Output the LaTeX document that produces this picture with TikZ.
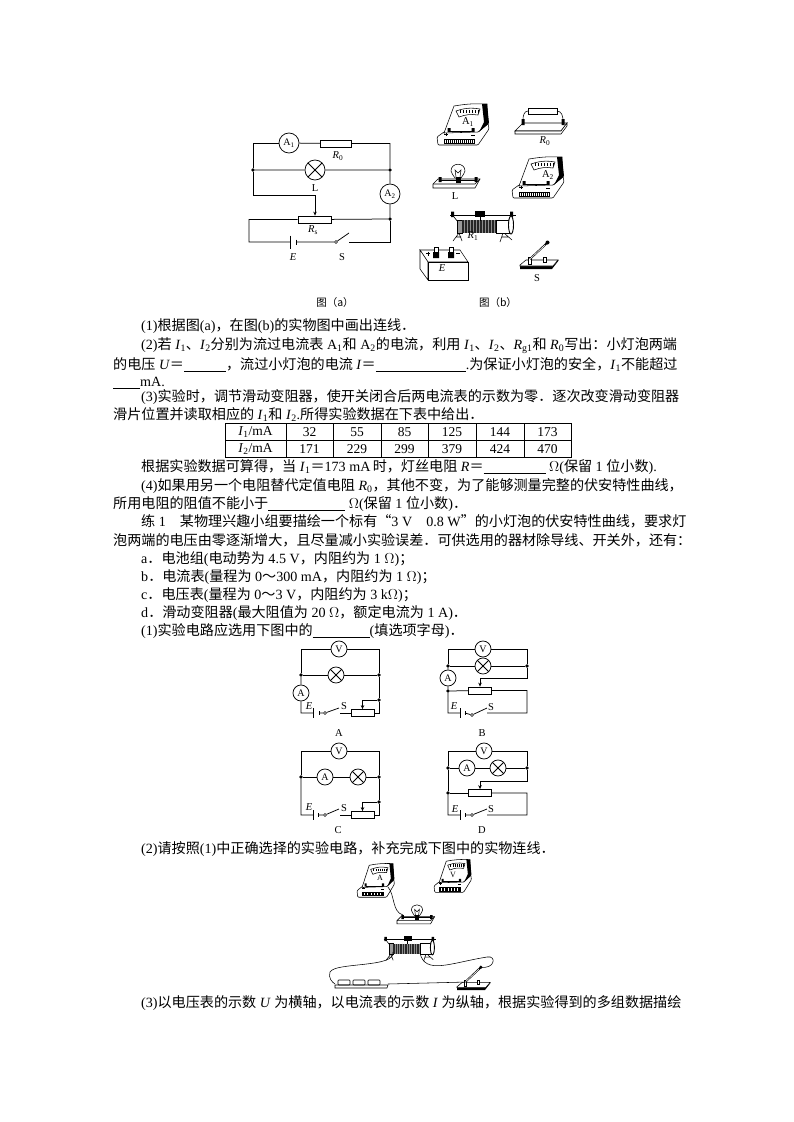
\documentclass[tikz,border=0pt]{standalone}
\usepackage{fontspec}
\setmainfont{Liberation Serif}
\newfontfamily\cjk{Noto Sans CJK SC}
\usetikzlibrary{arrows.meta}
\newcommand{\zh}[1]{{\cjk #1}}
\newcommand{\sv}[2]{\textit{#1}\textsubscript{#2}}
\newcommand{\blank}[1]{\rule[-2.5pt]{#1pt}{0.7pt}}
\tikzset{
	>={Stealth[length=4pt,width=3.5pt]},
	wire/.style={line width=0.75pt},
	thin part/.style={line width=0.55pt},
	meter/.style={circle, draw, fill=white, line width=0.75pt, minimum size=20pt, inner sep=0pt, font=\fontsize{10}{10}\selectfont},
	smeter/.style={meter, minimum size=16pt},
	lamp/.style={meter, path picture={\draw (path picture bounding box.north west) -- (path picture bounding box.south east)
		(path picture bounding box.north east) -- (path picture bounding box.south west);}},
	slamp/.style={lamp, minimum size=16pt},
	jdot/.style={circle, fill=black, minimum size=3.8pt, inner sep=0pt},
	res/.style={draw, fill=white, line width=0.75pt, minimum width=33pt, minimum height=7pt, inner sep=0pt},
	sres/.style={res, minimum width=23pt},
	swc/.style={circle, draw, fill=white, line width=0.55pt, minimum size=3pt, inner sep=0pt},
	lab/.style={inner sep=0pt, font=\fontsize{10.5}{10.5}\selectfont},
	para/.style={anchor=base west, inner sep=0pt, font=\fontsize{14.1}{17}\selectfont},
	cell/.style={inner sep=0pt, font=\fontsize{13.5}{14}\selectfont},
	pics/meterbox/.style={code={
		\draw[thin part, fill=white, rounded corners=1pt] (0,35) -- (1,43) -- (41,43) -- (52,27) -- (51,21) -- (40,24) -- (7,30) -- cycle;
		\draw[thin part, fill=white] (17,4) to[bend left=6] (50,2) -- (51,22) -- (41,30) -- (7,31) -- cycle;
		\fill (45,2) -- (50,2) -- (52,21) -- (42,30) -- (47,20) -- cycle;
		\draw[thin part] (19,9) to[bend left=14] (43,7) -- (41,13) to[bend right=14] (22,15) -- cycle;
		\foreach \tx in {23,26,...,41} {\draw[line width=0.3pt] (\tx,8) -- (\tx,11);}
		\draw[thin part] (12,29) -- (36,29);
		\fill (10.5,26) rectangle (13.5,30) (34.5,26) rectangle (37.5,30);
		\draw[thin part] (7,37) rectangle (37,41);
		\foreach \tx in {9,11,...,35} {\draw[line width=0.4pt] (\tx,37) -- (\tx,41);}
		\draw[line width=0.4pt] (7,32) -- (11,32) (9,30.5) -- (9,33.5) (34,33) -- (38,33);
	}},
	pics/resbox/.style={code={
		\draw[thin part, fill=white] (0,26) -- (8,18) -- (52,18) -- (46,26) -- cycle;
		\draw[thin part, fill=white] (0,26) -- (0,29) -- (46,29) -- (52,21) -- (52,18) -- (46,26) -- cycle;
		\draw[thin part, fill=white] (13,3) rectangle (42,9);
		\draw[thin part] (13,6) to[out=180, in=90] (8,15) (42,6) to[out=0, in=90] (48,15);
		\fill (6.5,14) rectangle (9.5,20) (46.5,14) rectangle (49.5,20);
	}},
	pics/lampbox/.style={code={
		\draw[thin part, fill=white] (0,22) -- (5,17) -- (47,17) -- (42,26) -- (0,26) -- cycle;
		\draw[thin part] (0,22) -- (42,22) -- (47,17);
		\draw[thin part] (7,18) -- (43,18);
		\fill (5.5,15) rectangle (8.5,20) (41.5,15) rectangle (44.5,20);
		\draw[thin part, fill=white] (22,16) .. controls (21,13) and (18,12) .. (18,9) .. controls (18,0) and (32,0) .. (32,9) .. controls (32,12) and (29,13) .. (28,16) -- cycle;
		\fill (22.5,15) rectangle (27.5,21);
		\draw[line width=0.5pt] (23,15) -- (22,8) -- (25,11) -- (28,8) -- (27,15);
	}},
	pics/rheobox/.style={code={
		\draw[thin part] (11,25) -- (5,33) (11,25) -- (14,33) (5,33) -- (8,29) -- (13,29);
		\draw[thin part] (55,25) -- (52,34) (56,25) -- (64,32) (54,29) -- (60,29);
		\draw[line width=0.9pt] (2,7) -- (68,7);
		\fill (3,3.5) rectangle (6,9) (62,3.5) rectangle (65,9);
		\draw[thin part] (6,9) -- (10,14) (62,9) -- (60,14);
		\draw[thin part, fill=black!40] (9,12) rectangle (14,25);
		\fill[black!85] (14,12) rectangle (48,25);
		\foreach \tx in {16,19,...,46} {\draw[black!45, line width=0.3pt] (\tx,12) -- (\tx,25);}
		\draw[thin part, fill=white] (48,12) rectangle (61,25);
		\draw[line width=0.9pt, fill=white] (63,17) ellipse (2.5 and 9);
		\fill (27,3) rectangle (37,9);
		\draw[thin part] (32,9) -- (32,13);
	}},
	pics/battbox/.style={code={
		\draw[thin part, fill=white] (0,3) -- (8,15) -- (48,15) -- (40,3) -- cycle;
		\draw[thin part, fill=white] (0,3) -- (0,22) -- (8,33) -- (8,15) -- cycle;
		\draw[thin part, fill=white] (8,15) rectangle (48,33);
		\fill (13,5) rectangle (19,11) (28,5) rectangle (34,11);
		\draw[thin part, fill=white] (14,0.5) rectangle (18,5) (29,0.5) rectangle (33,5);
		\draw[line width=0.4pt] (6,6.5) -- (10,6.5) (8,4.5) -- (8,8.5) (36,6.5) -- (40,6.5);
	}},
	pics/switchbox/.style={code={
		\fill (0,26) -- (0,29) -- (32,29) -- (39,20) -- (33,24) -- cycle;
		\draw[thin part, fill=white] (0,25) -- (6,20) -- (38,20) -- (33,26) -- (0,26) -- cycle;
		\draw[thin part, fill=white] (8,17) rectangle (11,24) (23,17) rectangle (26,22);
		\draw[line width=1.8pt] (10,19) -- (27,3);
		\draw[line width=0.6pt, white] (10,19) -- (25,5);
		\fill (27.5,2.5) circle (2);
	}},
	pics/cellbox/.style={code={
		\draw[thin part, fill=white, rounded corners=0.8pt] (0,0) rectangle (12,5);
	}},
}
\begin{document}
\begin{tikzpicture}[x=1pt, y=-1pt]
	\useasboundingbox (0,0) rectangle (793,1122);

	% figure (a)
	\node[meter] (Aone) at (289,143) {A\textsubscript{1}};
	\node[res, minimum width=31pt] (Rzero) at (336,143.5) {};
	\node[lamp] (La) at (315,170) {};
	\node[jdot] (jl) at (253,170) {};
	\node[jdot] (jr) at (390,170) {};
	\node[meter] (Atwo) at (390,194) {A\textsubscript{2}};
	\node[res] (Rs) at (314.5,219.5) {};
	\node[jdot] (jb) at (390,219) {};
	\coordinate (ps) at (315,195);
	\coordinate (cb) at (249,242);
	\coordinate (Ea) at (290,242);
	\coordinate (Eb) at (296,242);
	\node[swc] (Sa) at (336,242) {};
	\coordinate (Sb) at (349,242);
	\coordinate (Sc) at (349,233);
	\draw[wire] (jl) |- (Aone);
	\draw[wire] (Aone) -- (Rzero) -| (jr);
	\draw[wire] (jl) -- (La) -- (jr) -- (Atwo) -- (jb) -- (Rs);
	\draw[wire] (Rs) -| (cb) -- (Ea) (Eb) -- (Sa) -- (Sc);
	\draw[wire] (Sb) -| (jb);
	\draw[wire] (Ea) ++(0,-6.5) -- ++(0,13);
	\draw[wire] (Eb) ++(0,-2.5) -- ++(0,5);
	\draw[wire] (jl) |- (ps);
	\draw[wire, ->] (ps) -- (ps |- Rs.north);
	\node[lab] (lRzero) at (338,156) {\sv{R}{0}};
	\node[lab] (lL) at (315,188) {L};
	\node[lab] (lRs) at (313,230) {\sv{R}{s}};
	\node[lab] (lE) at (293,257) {\textit{E}};
	\node[lab] (lS) at (342,257) {S};
	\node[lab] (capa) at (335,303) {\zh{图（a）}};

	% figure (b)
	\pic at (437,102) {meterbox};
	\node[lab] (mAone) at (468,122) {A\textsubscript{1}};
	\pic at (515,105) {resbox};
	\node[lab] (bRzero) at (545,141) {\sv{R}{0}};
	\pic at (433,162) {lampbox};
	\node[lab] (bL) at (455,196) {L};
	\pic at (512,155) {meterbox};
	\node[lab] (mAtwo) at (548,175) {A\textsubscript{2}};
	\pic at (448,208) {rheobox};
	\node[lab] (bRone) at (473,236) {\sv{R}{1}};
	\pic at (420,247) {battbox};
	\node[lab] (bE) at (442,268) {\textit{E}};
	\pic at (520,240) {switchbox};
	\node[lab] (bS) at (537,278) {S};
	\node[lab] (capb) at (498,303) {\zh{图（b）}};

	% text, first block
	\node[para] (tA) at (141,330) {(1)\zh{根据图}(a)\zh{，在图}(b)\zh{的实物图中画出连线．}};
	\node[para] (tB) at (141,349) {(2)\zh{若} \sv{I}{1}\zh{、}\sv{I}{2}\zh{分别为流过电流表} A\textsubscript{1}\zh{和} A\textsubscript{2}\zh{的电流，利用} \sv{I}{1}\zh{、}\sv{I}{2}\zh{、}\sv{R}{g1}\zh{和} \sv{R}{0}\zh{写出：小灯泡两端}};
	\node[para] (tC) at (113,369) {\zh{的电压} \textit{U}\zh{＝}\blank{42}\zh{，流过小灯泡的电流} \textit{I}\zh{＝}\blank{90}.\zh{为保证小灯泡的安全，}\sv{I}{1}\zh{不能超过}};
	\node[para] (tD) at (113,386) {\blank{27}mA.};
	\node[para] (tE) at (141,401) {(3)\zh{实验时，调节滑动变阻器，使开关闭合后两电流表的示数为零．逐次改变滑动变阻器}};
	\node[para] (tF) at (113,419) {\zh{滑片位置并读取相应的} \sv{I}{1}\zh{和} \sv{I}{2}.\zh{所得实验数据在下表中给出．}};

	% table
	\draw[line width=0.8pt] (225,423) rectangle (571,457);
	\draw[line width=0.8pt] (225,440) -- (571,440);
	\foreach \lx in {286,333,381,428,476,524} {\draw[line width=0.8pt] (\lx,423) -- (\lx,457);}
	\node[cell] (hone) at (255.5,432) {\sv{I}{1}/mA};
	\node[cell] (htwo) at (255.5,449) {\sv{I}{2}/mA};
	\foreach \cx/\vone/\vtwo in {309.5/32/171, 357/55/229, 404.5/85/299, 452/125/379, 500/144/424, 547.5/173/470} {
		\node[cell] (r\vone) at (\cx,432) {\vone};
		\node[cell] (s\vtwo) at (\cx,449) {\vtwo};
	}

	% text, second block
	\node[para] (tG) at (141,471) {\zh{根据实验数据可算得，当} \sv{I}{1}\zh{＝}173 mA\,\zh{时，灯丝电阻} \textit{R}\zh{＝}\blank{62} $\Omega$(\zh{保留} 1 \zh{位小数}).};
	\node[para] (tH) at (141,490) {(4)\zh{如果用另一个电阻替代定值电阻} \sv{R}{0}\zh{，其他不变，为了能够测量完整的伏安特性曲线，}};
	\node[para] (tI) at (113,508) {\zh{所用电阻的阻值不能小于}\blank{77} $\Omega$(\zh{保留} 1 \zh{位小数})\zh{．}};
	\node[para] (tJ) at (141,526) {\zh{练} 1\quad\zh{某物理兴趣小组要描绘一个标有“}3 V\quad 0.8 W\zh{”的小灯泡的伏安特性曲线，要求灯}};
	\node[para] (tK) at (113,545) {\zh{泡两端的电压由零逐渐增大，且尽量减小实验误差．可供选用的器材除导线、开关外，还有：}};
	\node[para] (tL) at (141,563) {a\zh{．电池组}(\zh{电动势为} 4.5 V\zh{，内阻约为} 1 $\Omega$)\zh{；}};
	\node[para] (tM) at (141,581) {b\zh{．电流表}(\zh{量程为} 0\zh{～}300 mA\zh{，内阻约为} 1 $\Omega$)\zh{；}};
	\node[para] (tN) at (141,599) {c\zh{．电压表}(\zh{量程为} 0\zh{～}3 V\zh{，内阻约为} 3 k$\Omega$)\zh{；}};
	\node[para] (tO) at (141,617) {d\zh{．滑动变阻器}(\zh{最大阻值为} 20 $\Omega$\zh{，额定电流为} 1 A)\zh{．}};
	\node[para] (tP) at (141,635) {(1)\zh{实验电路应选用下图中的}\blank{57}(\zh{填选项字母})\zh{．}};

	% circuit A
	\node[smeter] (VA) at (339,649) {V};
	\node[slamp] (LA) at (336,675) {};
	\node[smeter] (AA) at (301,693) {A};
	\node[jdot] (jlA) at (301,675) {};
	\node[jdot] (jrA) at (379,675) {};
	\node[jdot] (jsA) at (379,700) {};
	\node[sres] (RA) at (362.5,713) {};
	\coordinate (cA) at (301,713);
	\coordinate (eaA) at (313,713);
	\coordinate (ebA) at (319,713);
	\node[swc] (swA) at (325,713) {};
	\coordinate (saA) at (339,708);
	\coordinate (sbA) at (340,713);
	\draw[wire] (jlA) |- (VA);
	\draw[wire] (VA) -| (jrA);
	\draw[wire] (jlA) -- (LA) -- (jrA) -- (jsA);
	\draw[wire] (jlA) -- (AA) -- (cA) -- (eaA) (ebA) -- (swA) -- (saA);
	\draw[wire] (sbA) -- (RA) -| (jsA);
	\draw[wire] (eaA) ++(0,-5) -- ++(0,10);
	\draw[wire] (ebA) ++(0,-2) -- ++(0,4);
	\draw[wire, ->] (jsA) -| (RA.north);
	\node[lab] (eA) at (309,706) {\textit{E}};
	\node[lab] (sA) at (344,706) {S};
	\node[lab] (capA) at (339,733) {A};

	% circuit B
	\node[smeter] (VB) at (483,649) {V};
	\node[slamp] (LB) at (483,666) {};
	\node[smeter] (AB) at (448,678) {A};
	\node[jdot] (jlB) at (448,666) {};
	\node[jdot] (jrB) at (527,666) {};
	\node[jdot] (jbB) at (448,691) {};
	\node[sres] (RB) at (480,690.5) {};
	\coordinate (ptB) at (480,678);
	\coordinate (crB) at (527,713);
	\coordinate (clB) at (448,713);
	\coordinate (eaB) at (460,713);
	\coordinate (ebB) at (465,713);
	\node[swc] (swB) at (472,715) {};
	\coordinate (saB) at (487,708);
	\coordinate (sbB) at (487,713);
	\draw[wire] (jlB) |- (VB);
	\draw[wire] (VB) -| (jrB);
	\draw[wire] (jlB) -- (LB) -- (jrB);
	\draw[wire] (jlB) -- (AB) -- (jbB) -- (RB);
	\draw[wire] (RB) -| (crB) -- (sbB) (swB) -- (saB) (swB) -- (ebB) (eaB) -- (clB) -- (jbB);
	\draw[wire] (eaB) ++(0,-5) -- ++(0,10);
	\draw[wire] (ebB) ++(0,-2) -- ++(0,4);
	\draw[wire] (jrB) |- (ptB);
	\draw[wire, ->] (ptB) -- (RB.north -| ptB);
	\node[lab] (eB) at (454,706) {\textit{E}};
	\node[lab] (sB) at (491,707) {S};
	\node[lab] (capB) at (482,733) {B};

	% circuit C
	\node[smeter] (VC) at (339,751) {V};
	\node[smeter] (AC) at (325,777) {A};
	\node[slamp] (LC) at (358,777) {};
	\node[jdot] (jlC) at (301,777) {};
	\node[jdot] (jrC) at (379,777) {};
	\node[jdot] (jsC) at (379,802) {};
	\node[sres] (RC) at (362.5,815) {};
	\coordinate (cC) at (301,815);
	\coordinate (eaC) at (313,815);
	\coordinate (ebC) at (318,815);
	\node[swc] (swC) at (325,815) {};
	\coordinate (saC) at (339,809);
	\coordinate (sbC) at (340,815);
	\draw[wire] (jlC) |- (VC);
	\draw[wire] (VC) -| (jrC);
	\draw[wire] (jlC) -- (AC) -- (LC) -- (jrC) -- (jsC);
	\draw[wire] (jlC) -- (cC) -- (eaC) (ebC) -- (swC) -- (saC);
	\draw[wire] (sbC) -- (RC) -| (jsC);
	\draw[wire] (eaC) ++(0,-5) -- ++(0,10);
	\draw[wire] (ebC) ++(0,-2) -- ++(0,4);
	\draw[wire, ->] (jsC) -| (RC.north);
	\node[lab] (eC) at (309,807) {\textit{E}};
	\node[lab] (sC) at (344,808) {S};
	\node[lab] (capC) at (338,830) {C};

	% circuit D
	\node[smeter] (VD) at (484,751) {V};
	\node[smeter] (AD) at (467,768) {A};
	\node[slamp] (LD) at (498,768) {};
	\node[jdot] (jlD) at (448,768) {};
	\node[jdot] (jrD) at (527,768) {};
	\node[jdot] (jbD) at (448,793) {};
	\node[sres] (RD) at (480,793) {};
	\coordinate (ptD) at (480,781);
	\coordinate (crD) at (527,815);
	\coordinate (clD) at (448,815);
	\coordinate (eaD) at (460,815);
	\coordinate (ebD) at (465,815);
	\node[swc] (swD) at (472,815) {};
	\coordinate (saD) at (487,809);
	\coordinate (sbD) at (487,815);
	\draw[wire] (jlD) |- (VD);
	\draw[wire] (VD) -| (jrD);
	\draw[wire] (jlD) -- (AD) -- (LD) -- (jrD);
	\draw[wire] (jlD) -- (jbD) -- (RD);
	\draw[wire] (RD) -| (crD) -- (sbD) (swD) -- (saD) (swD) -- (ebD) (eaD) -- (clD) -- (jbD);
	\draw[wire] (eaD) ++(0,-5) -- ++(0,10);
	\draw[wire] (ebD) ++(0,-2) -- ++(0,4);
	\draw[wire] (jrD) |- (ptD);
	\draw[wire, ->] (ptD) -- (RD.north -| ptD);
	\node[lab] (eD) at (455,809) {\textit{E}};
	\node[lab] (sD) at (491,809) {S};
	\node[lab] (capD) at (482,830) {D};

	\node[para] (tQ) at (141,853) {(2)\zh{请按照}(1)\zh{中正确选择的实验电路，补充完成下图中的实物连线．}};

	% figure with the real parts
	\pic[xscale=0.72, yscale=0.82] at (357,862) {meterbox};
	\node[lab, font=\fontsize{8}{8}\selectfont] (mA) at (380,878) {A};
	\pic[xscale=0.72, yscale=0.8] at (434,858) {meterbox};
	\node[lab, font=\fontsize{8}{8}\selectfont] (mV) at (453,875) {V};
	\pic[scale=0.8] at (397,903) {lampbox};
	\pic[scale=0.8] at (382,934) {rheobox};
	\pic[scale=0.87] at (457,965) {switchbox};
	\foreach \bx in {338,353,368} {\pic at (\bx,980) {cellbox};}
	\draw[thin part] (335,985) -- (388,985) -- (387,988) -- (335,988) -- cycle;
	\coordinate (wmA) at (388,887);
	\coordinate (wlA) at (403,915);
	\coordinate (wrL) at (393,952);
	\coordinate (wbL) at (335,984);
	\coordinate (wrR) at (420,953);
	\coordinate (wsR) at (480,967);
	\coordinate (wbR) at (388,984);
	\coordinate (wsL) at (467,982);
	\draw[thin part] (wmA) .. controls (395,895) and (392,912) .. (wlA);
	\draw[thin part] (wrL) .. controls (396,968) and (335,962) .. (330,972) .. controls (328,978) and (332,982) .. (wbL);
	\draw[thin part] (wrR) .. controls (425,975) and (450,963) .. (487,957) .. controls (497,955) and (495,970) .. (wsR);
	\draw[thin part] (wbR) -- (wsL);

	\node[para] (tR) at (141,1007) {(3)\zh{以电压表的示数} \textit{U} \zh{为横轴，以电流表的示数} \textit{I} \zh{为纵轴，根据实验得到的多组数据描绘}};
\end{tikzpicture}
\end{document}
